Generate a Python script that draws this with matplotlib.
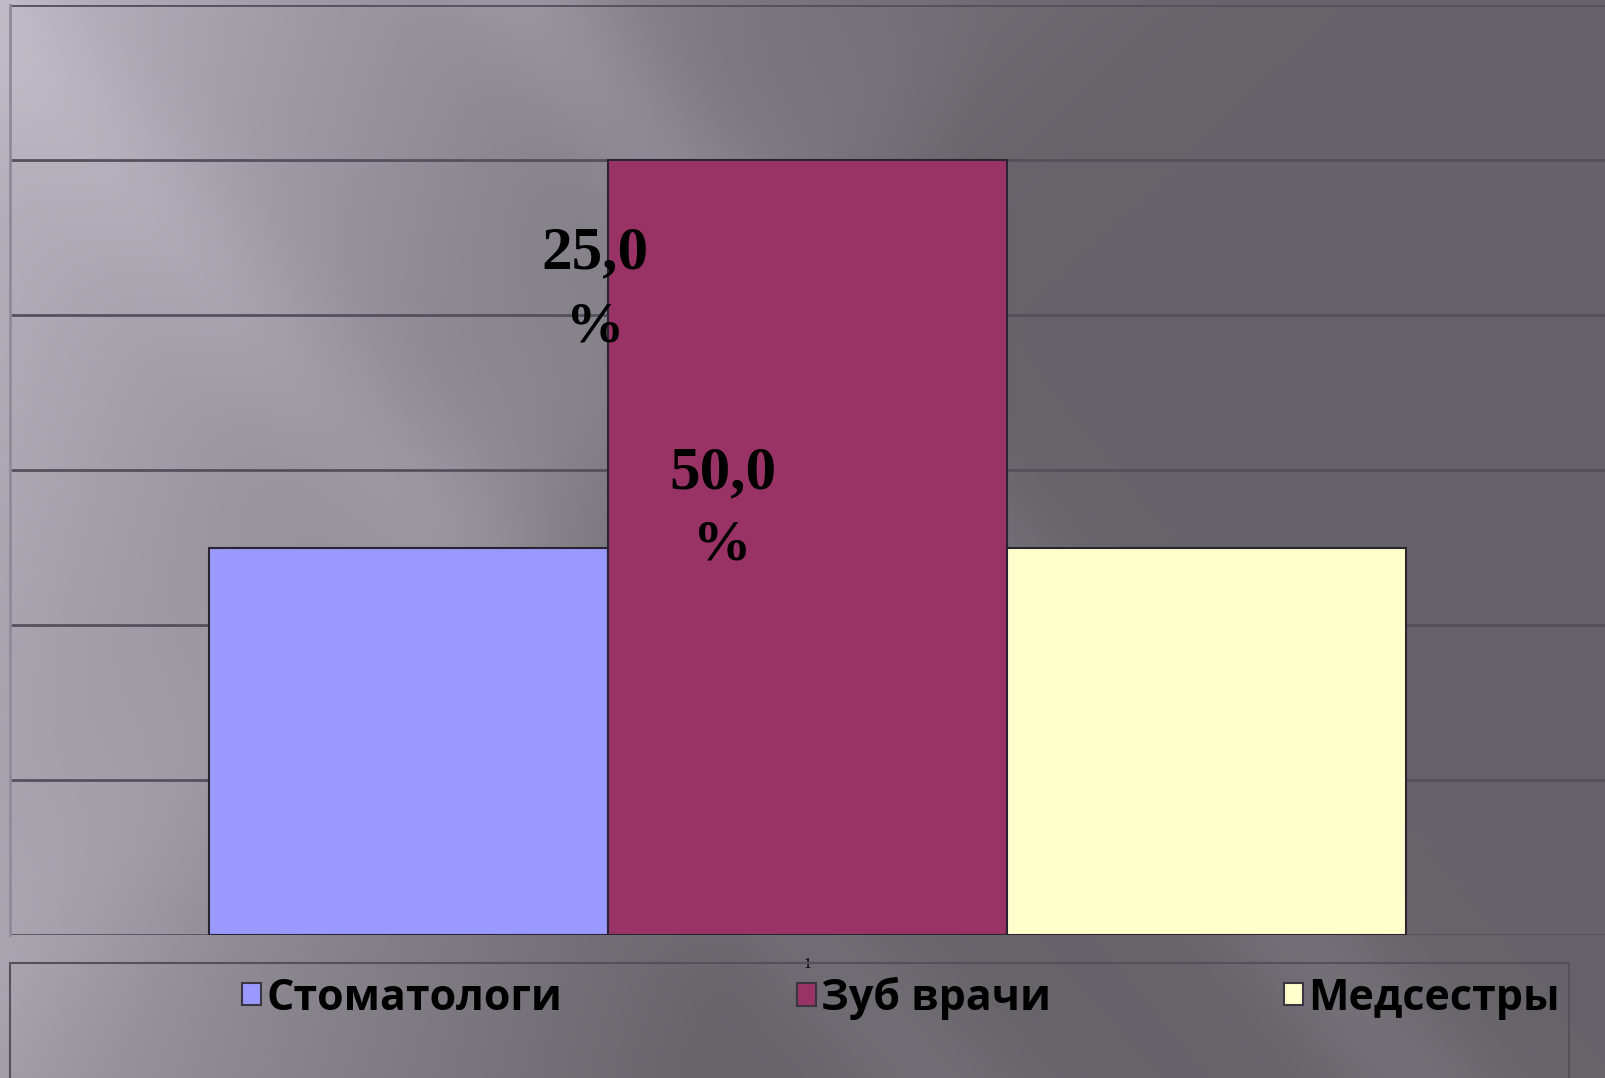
import numpy as np
import matplotlib
matplotlib.use("Agg")
import matplotlib.pyplot as plt
from matplotlib.patches import Rectangle

# Data
categories = ["1"]
series = ["Стоматологи", "Зуб врачи", "Медсестры"]
values = [25.0, 50.0, 25.0]
colors = ["#9999FF", "#993366", "#FFFFCC"]

W, H = 1606, 1078
fig = plt.figure(figsize=(W / 100, H / 100), dpi=100)

# background gradient (slide style)
bg = fig.add_axes([0, 0, 1, 1], zorder=-10)
yy, xx = np.mgrid[0:1:300j, 0:1:450j]
base = 0.72 - 0.32 * np.clip(1.6 * xx + 0.3 * yy, 0, 1)
streak = (0.05 * np.exp(-((xx - 0.55 * yy - 0.33) ** 2) / 0.003)
          + 0.04 * np.exp(-((xx - 0.6 * yy + 0.02) ** 2) / 0.004)
          + 0.03 * np.exp(-((xx + 0.7 * yy - 0.62) ** 2) / 0.01))
v = np.clip(base + streak, 0, 1)
img = np.dstack([v * 1.0, v * 0.97, v * 1.03])
bg.imshow(np.clip(img, 0, 1), aspect="auto", extent=[0, 1, 0, 1], origin="upper")
bg.axis("off")

ax = fig.add_axes([10 / W, (H - 935) / H, (W - 10) / W, (935 - 5) / H])
ax.patch.set_alpha(0)

x = np.arange(len(categories))
width = 0.25
bars = []
for i, (name, val, c) in enumerate(zip(series, values, colors)):
    b = ax.bar(x + (i - 1) * width, [val], width, color=c, edgecolor="#2a2430",
               linewidth=1.5, label=name, zorder=3)
    bars.append(b)

ax.set_xlim(-0.4994, 0.5006)
ax.set_ylim(0, 60)
ax.set_yticks(np.arange(0, 61, 10))
ax.yaxis.grid(True, color="#55505b", linewidth=2, zorder=0)
ax.tick_params(left=False, labelleft=False, bottom=False)
ax.set_xticks(x)
ax.set_xticklabels(categories, fontsize=11, family="Liberation Serif")
ax.tick_params(axis="x", pad=13)
for s in ["top", "right", "bottom"]:
    ax.spines[s].set_visible(False)
ax.spines["left"].set_color("#8f8a95")
ax.spines["left"].set_linewidth(2)

# data labels
lab = dict(ha="center", va="center", family="Liberation Serif", fontweight="bold",
           color="black", zorder=5)
ax.text(x[0] - 0.133, 44.0, "25,0", fontsize=44, **lab)
ax.text(x[0] - 0.133, 39.2, "%", fontsize=42, **lab)
ax.text(x[0] - 0.053, 29.8, "50,0", fontsize=44, **lab)
ax.text(x[0] - 0.053, 25.1, "%", fontsize=42, **lab)

# legend box
fig.patches.append(Rectangle((10 / W, -0.01), (1569 - 10) / W, (H - 963) / H + 0.01,
                             transform=fig.transFigure, facecolor="none",
                             edgecolor="#55505a", linewidth=1.5))
# one legend per entry so each sits where the reference puts it
leg_x = [242, 797, 1284]
for b, name, lx in zip(bars, series, leg_x):
    leg = fig.legend(handles=[b[0]], labels=[name], loc="center left",
                     bbox_to_anchor=(lx / W, (H - 998) / H), frameon=False,
                     prop={"family": "Open Sans", "size": 31, "weight": "bold"},
                     handlelength=0.43, handleheight=0.43, handletextpad=0.13,
                     borderaxespad=0, borderpad=0)
    for h in leg.legend_handles:
        h.set_edgecolor("#3a3540")
        h.set_linewidth(1.5)

fig.savefig("out.png", dpi=100)
